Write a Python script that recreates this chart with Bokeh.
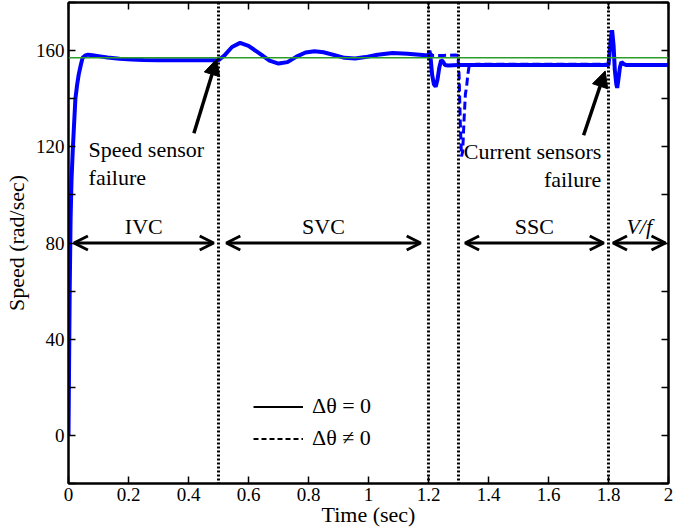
from bokeh.plotting import figure
from bokeh.models import (FixedTicker, LinearAxis, CustomJSTickFormatter, Span, Arrow,
                          OpenHead, NormalHead, Legend, LegendItem, ColumnDataSource)
from bokeh.core.properties import value
from bokeh.embed import file_html
from bokeh.resources import INLINE

# ---------------- data ----------------
time_solid = [0, 0.002, 0.004, 0.007, 0.01, 0.014, 0.018, 0.023, 0.029, 0.034, 0.041, 0.047, 0.056, 0.065,
              0.08, 0.1, 0.13, 0.17, 0.21, 0.25, 0.3, 0.4, 0.5,
              0.52, 0.545, 0.572, 0.6, 0.64, 0.67, 0.70, 0.73, 0.76, 0.79, 0.82, 0.85, 0.89,
              0.92, 0.955, 0.99, 1.03, 1.08, 1.13, 1.17, 1.2,
              1.203, 1.207, 1.212, 1.218, 1.224, 1.23, 1.236, 1.242, 1.248, 1.255, 1.265,
              1.3, 1.5, 1.8,
              1.803, 1.807, 1.812, 1.817, 1.821, 1.826, 1.829, 1.833, 1.838, 1.843, 1.85, 1.86, 2.0]
speed_solid = [0, 30, 60, 90, 106, 118, 128, 140, 146, 150, 154, 157, 158, 158.3,
               158.1, 157.7, 157.1, 156.6, 156.3, 156.1, 156.0, 156.0, 156.0,
               158, 161.5, 163.2, 162, 158.5, 155.8, 154.6, 155.2, 157.5, 159.2, 159.7, 159.3, 158,
               157, 156.7, 157.3, 158.3, 159, 158.7, 158.3, 158,
               160, 157, 150, 146, 145, 148, 153, 156, 155.5, 154, 153.8,
               154, 154, 154,
               158, 164, 168.5, 162, 152, 146, 144.5, 148, 153, 155.3, 154.5, 154, 154]

time_dashed = [1.2, 1.203, 1.215, 1.25, 1.29, 1.298, 1.302, 1.306, 1.31, 1.314, 1.318, 1.323,
               1.327, 1.331, 1.336, 1.36, 1.8]
speed_dashed = [158, 159, 158, 158, 158.2, 158, 150, 130, 116, 118, 130, 142,
                145, 150, 154, 154.3, 154.3]

reference_speed = 157
event_times = [0.5, 1.2, 1.3, 1.8]

phase_names = ["IVC", "SVC", "SSC", "V/f"]
phase_start = [0.018, 0.526, 1.322, 1.815]
phase_end = [0.484, 1.174, 1.784, 1.99]
phase_level = 80
phase_style = ["normal", "normal", "normal", "italic"]

x_ticks = [0, 0.2, 0.4, 0.6, 0.8, 1.0, 1.2, 1.4, 1.6, 1.8, 2.0]
y_ticks = [0, 40, 80, 120, 160]
y_minor_ticks = [-20, 20, 60, 100, 140, 180]

note_lines = ["Speed sensor", "failure", "Current sensors", "failure"]
note_x = [0.067, 0.067, 1.776, 1.776]
note_y = [119, 107.4, 118, 106.6]
note_align = ["left", "left", "right", "right"]
note_arrow_start = [(0.418, 125.6), (1.717, 124.8)]
note_arrow_end = [(0.494, 156.5), (1.789, 151.5)]

legend_labels = ["\u0394\u03b8 = 0", "\u0394\u03b8 \u2260 0"]
x_title = "Time (sec)"
y_title = "Speed (rad/sec)"

FONT = "Liberation Serif"
BLUE = "#0000ff"
NAN = float("nan")

# ---------------- figure ----------------
p = figure(width=684, height=529, x_range=(0, 2), y_range=(-20, 180),
           output_backend="svg", toolbar_location=None,
           min_border_left=50, min_border_right=16, min_border_top=2, min_border_bottom=0)
p.grid.visible = False
p.outline_line_color = "black"
p.outline_line_width = 2
p.background_fill_color = "white"
p.border_fill_color = "white"

blank_fmt = CustomJSTickFormatter(code="return '';")

def style_axis(ax, labels=True):
    ax.axis_line_width = 2
    ax.axis_line_color = "black"
    ax.major_tick_in = 7
    ax.major_tick_out = 0
    ax.minor_tick_in = 7
    ax.minor_tick_out = 0
    ax.major_tick_line_width = 1.5
    ax.minor_tick_line_width = 1.5
    ax.major_tick_line_color = "black"
    ax.minor_tick_line_color = "black"
    ax.major_label_text_font = FONT
    ax.major_label_text_color = "black"
    ax.axis_label_text_font = FONT
    ax.axis_label_text_font_style = "normal"
    ax.axis_label_text_font_size = "22px"
    ax.axis_label_text_color = "black"
    if labels:
        ax.major_label_text_font_size = "19px"
        ax.major_label_standoff = 4
    else:
        ax.formatter = blank_fmt
        ax.major_label_text_font_size = "1px"
        ax.major_label_standoff = 0

xt = FixedTicker(ticks=x_ticks, minor_ticks=[])
yt = FixedTicker(ticks=y_ticks, minor_ticks=y_minor_ticks)
xfmt = CustomJSTickFormatter(code="return tick.toFixed(1).replace(/\\.0$/, '');")

p.xaxis.ticker = xt
p.xaxis.formatter = xfmt
p.yaxis.ticker = yt
style_axis(p.xaxis[0])
style_axis(p.yaxis[0])
p.xaxis.axis_label = x_title
p.xaxis.major_label_standoff = 4
p.xaxis.axis_label_standoff = -2
p.yaxis.axis_label = y_title
p.yaxis.axis_label_standoff = 4

top_ax = LinearAxis(ticker=FixedTicker(ticks=x_ticks, minor_ticks=[]))
style_axis(top_ax, labels=False)
p.add_layout(top_ax, "above")
right_ax = LinearAxis(ticker=FixedTicker(ticks=y_ticks, minor_ticks=y_minor_ticks))
style_axis(right_ax, labels=False)
p.add_layout(right_ax, "right")

# curves
p.line(time_solid, speed_solid, line_color=BLUE, line_width=4)
p.line(time_dashed, speed_dashed, line_color=BLUE, line_width=3, line_dash="8 4")

# reference speed
p.add_layout(Span(location=reference_speed, dimension="width", line_color="#2a9d2a", line_width=1.5))

# event lines
for t in event_times:
    p.add_layout(Span(location=t, dimension="height", line_color="black",
                      line_width=3, line_dash="2 2"))

# phase arrows and labels
for name, s, e in zip(phase_names, phase_start, phase_end):
    p.add_layout(Arrow(start=OpenHead(size=14, line_width=3, line_color="black"),
                       end=OpenHead(size=14, line_width=3, line_color="black"),
                       x_start=s, y_start=phase_level, x_end=e, y_end=phase_level,
                       line_width=3, line_color="black"))
phase_src = ColumnDataSource(dict(x=[(s + e) / 2 for s, e in zip(phase_start, phase_end)],
                                  y=[phase_level + 7] * len(phase_names),
                                  t=phase_names, st=phase_style))
p.text(x="x", y="y", text="t", source=phase_src, text_font=value(FONT),
       text_font_size="22px", text_align="center", text_baseline="middle",
       text_color="black", text_font_style="st")

# annotations
note_src = ColumnDataSource(dict(x=note_x, y=note_y, t=note_lines, a=note_align))
p.text(x="x", y="y", text="t", source=note_src, text_font=value(FONT),
       text_font_size="22px", text_align="a", text_baseline="middle", text_color="black")
for (xs, ys), (xe, ye) in zip(note_arrow_start, note_arrow_end):
    p.add_layout(Arrow(end=NormalHead(size=16, fill_color="black", line_color="black"),
                       x_start=xs, y_start=ys, x_end=xe, y_end=ye,
                       line_width=3.5, line_color="black"))

# legend (empty renderers only provide the black key lines)
r1 = p.line(x=[NAN], y=[NAN], line_color="black", line_width=2)
r2 = p.line(x=[NAN], y=[NAN], line_color="black", line_width=2, line_dash="5 3")
leg = Legend(items=[LegendItem(label=legend_labels[0], renderers=[r1]),
                    LegendItem(label=legend_labels[1], renderers=[r2])],
             location=(185, 32), border_line_color=None, background_fill_alpha=0,
             glyph_width=50, glyph_height=25, label_height=25, label_standoff=9,
             padding=0, margin=0, spacing=6, label_text_font=FONT,
             label_text_font_size="22px", label_text_color="black")
p.add_layout(leg)

open("out.html", "w").write(file_html(p, INLINE))
